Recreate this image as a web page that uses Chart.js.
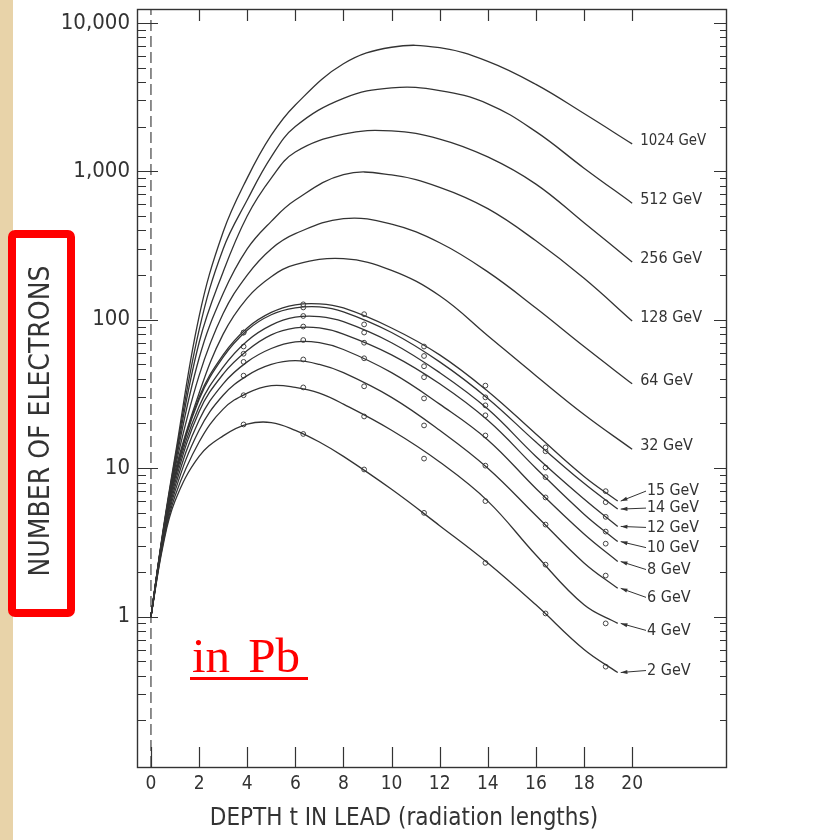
<!DOCTYPE html>
<html>
<head>
<meta charset="utf-8">
<script src="https://cdn.jsdelivr.net/npm/chart.js@4.4.1/dist/chart.umd.min.js"></script>
<style>
  html, body { margin: 0; padding: 0; background: #fff; }
  #wrap { width: 819px; height: 840px; }
</style>
</head>
<body>
<div id="wrap"><canvas id="shower" width="819" height="840"></canvas></div>
<script>
// depth grid (radiation lengths) for the smooth curves
const tHigh = [0, 0.5, 1, 2, 3, 4, 5, 6, 8, 10, 12, 14, 16, 18, 20];
const n1024 = [1, 3.8, 12, 105, 390, 900, 1750, 2800, 5300, 6850, 6800, 5500, 3850, 2450, 1530];
const n512  = [1, 3.7, 11.5, 85, 300, 640, 1250, 2000, 3100, 3650, 3500, 2850, 1850, 1050, 610];
const n256  = [1, 3.7, 11, 70, 210, 500, 900, 1350, 1780, 1870, 1650, 1250, 820, 450, 245];
const n128  = [1, 3.6, 10.5, 55, 150, 300, 460, 640, 950, 945, 780, 560, 340, 190, 98];
const n64   = [1, 3.6, 10, 42, 110, 200, 300, 380, 480, 440, 330, 210, 120, 66, 37];
const n32   = [1, 3.5, 9.5, 32, 80, 140, 195, 235, 258, 215, 145, 78, 42, 23, 13.4];

const tLow = [0, 0.5, 1, 2, 3, 4, 5, 6, 7, 8, 10, 12, 14, 16, 18, 19.4];
const n15 = [1, 3.6, 9, 30, 58, 88, 112, 126, 128, 120, 88, 58, 33, 17, 8.8, 6.0];
const n14 = [1, 3.5, 8.8, 29, 56, 85, 108, 120, 122, 113, 82, 52, 29.5, 15, 7.9, 5.3];
const n12 = [1, 3.5, 8.5, 26, 48, 72, 92, 104, 105, 97, 70, 44, 25, 12, 6.2, 4.05];
const n10 = [1, 3.4, 8, 24, 43, 62, 79, 88, 88, 80, 58, 37, 21, 10, 4.9, 3.2];
const n8  = [1, 3.3, 7.5, 21, 37, 52, 64, 71, 70, 63, 44, 27, 15.5, 7.3, 3.6, 2.35];
const n6  = [1, 3.2, 7, 18, 31, 42, 50, 53, 50, 44, 30, 18, 10, 4.8, 2.3, 1.55];
const n4  = [1, 3.1, 6.5, 15, 25, 32, 36, 35, 32, 27, 18, 11, 6.0, 2.6, 1.2, 0.9];
const n2  = [1, 3.0, 6, 12, 16.5, 19.8, 20.3, 18, 15, 12, 7.2, 4.1, 2.3, 1.2, 0.6, 0.42];

// measured points
const tMeas = [3.85, 6.33, 8.86, 11.35, 13.9, 16.4, 18.9];
const m15 = [82, 127, 109, 66, 36, 13.8, 7.0];
const m14 = [82, 121, 93, 57, 30, 13, 5.9];
const m12 = [66, 106, 82, 48.6, 26.5, 10.1, 4.7];
const m10 = [59, 90, 70, 41, 22.7, 8.7, 3.74];
const m8  = [52, 73, 55, 29.5, 16.6, 6.35, 3.1];
const m6  = [42, 54, 35.6, 19.4, 10.4, 4.17, 1.89];
const m4  = [31, 35, 22.3, 11.6, 6.0, 2.24, 0.9];
const m2  = [19.7, 17, 9.8, 5.0, 2.3, 1.05, 0.46];

const xTickValues = [0, 2, 4, 6, 8, 10, 12, 14, 16, 18, 20];
const yTickValues = [1, 10, 100, 1000, 10000];

const highCurves = [
  { label: '1024 GeV', n: n1024 }, { label: '512 GeV', n: n512 }, { label: '256 GeV', n: n256 },
  { label: '128 GeV', n: n128 }, { label: '64 GeV', n: n64 }, { label: '32 GeV', n: n32 }
];
// dy: label offset (px) from the end of its curve
const lowCurves = [
  { label: '15 GeV', n: n15, m: m15, dy: -10 }, { label: '14 GeV', n: n14, m: m14, dy: -1 },
  { label: '12 GeV', n: n12, m: m12, dy: 1 },   { label: '10 GeV', n: n10, m: m10, dy: 6 },
  { label: '8 GeV', n: n8, m: m8, dy: 8 },      { label: '6 GeV', n: n6, m: m6, dy: 9 },
  { label: '4 GeV', n: n4, m: m4, dy: 7 },      { label: '2 GeV', n: n2, m: m2, dy: -2 }
];

const INK = '#333';
const FONT = "'DejaVu Sans Condensed', 'DejaVu Sans', sans-serif";

const pts = (xs, ys) => xs.map((x, i) => ({ x: x, y: ys[i] }));

const datasets = [];
highCurves.forEach(c => datasets.push({
  data: pts(tHigh, c.n), showLine: true, borderColor: INK, borderWidth: 1.3,
  pointRadius: 0, tension: 0.4, curveLabel: c.label
}));
lowCurves.forEach(c => datasets.push({
  data: pts(tLow, c.n), showLine: true, borderColor: INK, borderWidth: 1.3,
  pointRadius: 0, tension: 0.4, curveLabel: c.label, dy: c.dy
}));
lowCurves.forEach(c => datasets.push({
  data: pts(tMeas, c.m), showLine: false, pointRadius: 2.4, borderWidth: 1,
  borderColor: '#444', backgroundColor: '#fff'
}));
// dashed line at zero depth
datasets.push({
  data: [{ x: 0, y: 0.097 }, { x: 0, y: 12400 }], showLine: true, borderColor: '#444',
  borderWidth: 1.2, borderDash: [11, 5], pointRadius: 0
});

const paper = {
  id: 'paper',
  beforeDraw(chart) {
    const ctx = chart.ctx;
    ctx.save();
    ctx.fillStyle = '#fff';
    ctx.fillRect(0, 0, chart.width, chart.height);
    ctx.fillStyle = '#e8d3a9';
    ctx.fillRect(0, 0, 13, chart.height);
    ctx.restore();
  },
  afterDraw(chart) {
    const ctx = chart.ctx;
    const a = chart.chartArea;
    const xs = chart.scales.x, ys = chart.scales.y;
    ctx.save();
    ctx.strokeStyle = INK;
    ctx.lineWidth = 1.4;
    ctx.strokeRect(a.left + 0.5, a.top + 0.5, a.right - a.left, a.bottom - a.top);

    // log ticks on both sides, pointing inward
    ctx.lineWidth = 1.2;
    ctx.beginPath();
    for (let d = -1; d <= 4; d++) {
      for (let m = 1; m <= 9; m++) {
        const v = m * Math.pow(10, d);
        const y = Math.round(ys.getPixelForValue(v)) + 0.5;
        if (y < a.top + 2 || y > a.bottom - 2) continue;
        const major = m === 1;
        ctx.moveTo(a.left, y); ctx.lineTo(a.left + (major ? 21 : 9), y);
        ctx.moveTo(a.right, y); ctx.lineTo(a.right - (major ? 12 : 6), y);
      }
    }
    xTickValues.forEach(t => {
      const x = Math.round(xs.getPixelForValue(t)) + 0.5;
      ctx.moveTo(x, a.bottom); ctx.lineTo(x, a.bottom - 20);
      if (t > 0) { ctx.moveTo(x, a.top); ctx.lineTo(x, a.top + 12); }
    });
    ctx.stroke();

    // curve labels
    ctx.fillStyle = INK;
    ctx.font = '16px ' + FONT;
    ctx.textBaseline = 'middle';
    ctx.textAlign = 'left';
    chart.data.datasets.forEach((ds, i) => {
      if (!ds.curveLabel) return;
      const meta = chart.getDatasetMeta(i);
      const last = meta.data[meta.data.length - 1];
      if (ds.dy === undefined) {
        ctx.fillText(ds.curveLabel, last.x + 8, last.y - 3, 66);
      } else {
        const lx = 646, ly = last.y + ds.dy;
        ctx.strokeStyle = INK;
        ctx.lineWidth = 1;
        ctx.beginPath();
        ctx.moveTo(lx, ly);
        ctx.lineTo(last.x + 3, last.y);
        ctx.stroke();
        const ang = Math.atan2(ly - last.y, lx - last.x - 3);
        ctx.beginPath();
        ctx.moveTo(last.x + 3, last.y);
        ctx.lineTo(last.x + 3 + 7 * Math.cos(ang - 0.3), last.y + 7 * Math.sin(ang - 0.3));
        ctx.lineTo(last.x + 3 + 7 * Math.cos(ang + 0.3), last.y + 7 * Math.sin(ang + 0.3));
        ctx.closePath();
        ctx.fill();
        ctx.fillText(ds.curveLabel, lx + 1, ly, 52);
      }
    });

    // axis titles
    ctx.font = '24px ' + FONT;
    ctx.textAlign = 'center';
    ctx.textBaseline = 'alphabetic';
    ctx.fillText('DEPTH t IN LEAD (radiation lengths)', 404, 825, 452);

    ctx.save();
    ctx.translate(49, 421);
    ctx.rotate(-Math.PI / 2);
    ctx.font = '28px ' + FONT;
    ctx.fillText('NUMBER OF ELECTRONS', 0, 0, 338);
    ctx.restore();

    // red highlight box
    ctx.strokeStyle = '#ff0000';
    ctx.lineWidth = 8;
    ctx.beginPath();
    ctx.roundRect(12, 234, 59, 379, 3);
    ctx.stroke();

    // "in Pb"
    ctx.fillStyle = '#ff0000';
    ctx.font = "49px 'Liberation Serif', 'Times New Roman', serif";
    ctx.textAlign = 'left';
    ctx.wordSpacing = '6px';
    ctx.fillText('in Pb', 192, 672);
    ctx.wordSpacing = '0px';
    ctx.fillRect(190, 677, 118, 3);
    ctx.restore();
  }
};

new Chart(document.getElementById('shower'), {
  type: 'scatter',
  data: { datasets: datasets },
  options: {
    responsive: false,
    animation: false,
    events: [],
    layout: { padding: { left: 0, top: 9, right: 93, bottom: 0 } },
    plugins: { legend: { display: false }, tooltip: { enabled: false } },
    scales: {
      x: {
        type: 'linear', min: -0.58, max: 23.9,
        afterFit: s => { s.height = 73; s.paddingLeft = 0; s.paddingRight = 0; },
        afterBuildTicks: s => { s.ticks = xTickValues.map(v => ({ value: v })); },
        grid: { display: false, drawTicks: false },
        border: { display: false },
        ticks: { color: INK, padding: 6, font: { family: FONT, size: 19 }, maxRotation: 0 }
      },
      y: {
        type: 'logarithmic', min: 0.097, max: 12400,
        afterFit: s => { s.width = 137; s.paddingTop = 0; s.paddingBottom = 0; },
        afterBuildTicks: s => { s.ticks = yTickValues.map(v => ({ value: v })); },
        grid: { display: false, drawTicks: false },
        border: { display: false },
        ticks: {
          color: INK, padding: 7, font: { family: FONT, size: 22 },
          callback: v => v.toLocaleString('en-US')
        }
      }
    }
  },
  plugins: [paper]
});
</script>
</body>
</html>
